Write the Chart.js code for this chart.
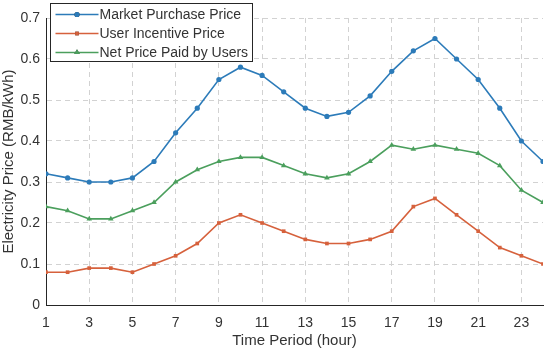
<!DOCTYPE html>
<html><head><meta charset="utf-8">
<script src="https://cdn.jsdelivr.net/npm/chart.js@4/dist/chart.umd.min.js"></script>
<style>html,body{margin:0;padding:0;background:#fff}#wrap{width:550px;height:350px}</style>
</head><body><div id="wrap"><canvas id="c" width="550" height="350"></canvas></div>
<script>
const hours = [1,2,3,4,5,6,7,8,9,10,11,12,13,14,15,16,17,18,19,20,21,22,23,24];
const marketPrice = [0.32,0.31,0.30,0.30,0.31,0.35,0.42,0.48,0.55,0.58,0.56,0.52,0.48,0.46,0.47,0.51,0.57,0.62,0.65,0.60,0.55,0.48,0.40,0.35];
const incentivePrice = [0.08,0.08,0.09,0.09,0.08,0.10,0.12,0.15,0.20,0.22,0.20,0.18,0.16,0.15,0.15,0.16,0.18,0.24,0.26,0.22,0.18,0.14,0.12,0.10];
const netPrice = [0.24,0.23,0.21,0.21,0.23,0.25,0.30,0.33,0.35,0.36,0.36,0.34,0.32,0.31,0.32,0.35,0.39,0.38,0.39,0.38,0.37,0.34,0.28,0.25];
const xTicks = [1,3,5,7,9,11,13,15,17,19,21,23];
const yTicks = [0,0.1,0.2,0.3,0.4,0.5,0.6,0.7];
const seriesNames = ['Market Purchase Price','User Incentive Price','Net Price Paid by Users'];
const colors = ['#2c7bb9','#d6613c','#4b9f5d'];
const markers = ['circle','rect','triangle'];

const FONT = 'Liberation Sans, Arial, Helvetica, sans-serif';
const TXT = '#333333';

function ds(i, vals){
  return {
    label: seriesNames[i],
    data: hours.map((h,k)=>({x:h,y:vals[k]})),
    borderColor: colors[i], backgroundColor: colors[i],
    borderWidth: 1.6, pointStyle: markers[i],
    pointRadius: i===2?3.2:2.6, pointBorderWidth: 0, tension: 0
  };
}

const legendPlugin = {
  id:'boxLegend',
  afterDraw(chart){
    const ctx = chart.ctx;
    const x0=50.5, y0=3.5, w=202, h=58;
    ctx.save();
    ctx.fillStyle='#fff'; ctx.fillRect(x0,y0,w,h);
    ctx.strokeStyle='#262626'; ctx.lineWidth=1; ctx.strokeRect(x0,y0,w,h);
    ctx.font='14px '+FONT; ctx.textBaseline='middle'; ctx.fillStyle=TXT;
    chart.data.datasets.forEach((d,i)=>{
      const yy = y0+11+i*19;
      ctx.strokeStyle=d.borderColor; ctx.lineWidth=1.6;
      ctx.beginPath(); ctx.moveTo(x0+5,yy); ctx.lineTo(x0+48,yy); ctx.stroke();
      Chart.helpers.drawPoint(ctx,{pointStyle:d.pointStyle,radius:d.pointRadius,rotation:0,borderWidth:0},x0+26.5,yy);
      ctx.fillStyle=d.borderColor; ctx.fill();
      ctx.fillStyle=TXT;
      ctx.fillText(d.label, x0+49, yy+1);
    });
    ctx.restore();
  }
};

new Chart(document.getElementById('c'),{
  type:'line',
  data:{datasets:[ds(0,marketPrice),ds(1,incentivePrice),ds(2,netPrice)]},
  options:{
    responsive:false, animation:false,
    layout:{padding:{left:0,right:7,top:18,bottom:0}},
    plugins:{legend:{display:false},tooltip:{enabled:false}},
    scales:{
      x:{type:'linear',min:1,max:24,
        afterBuildTicks(a){a.ticks=xTicks.map(v=>({value:v}));},
        afterFit(a){a.height=45;},
        grid:{color:'#d2d2d2',drawTicks:false},
        border:{color:'#262626',width:1,dash:[5,4]},
        ticks:{color:TXT,font:{family:FONT,size:14},padding:10,maxRotation:0},
        title:{display:true,text:'Time Period (hour)',color:TXT,font:{family:FONT,size:15},padding:{top:4,bottom:0}}
      },
      y:{min:0,max:0.7,
        afterBuildTicks(a){a.ticks=yTicks.map(v=>({value:v}));},
        afterFit(a){a.width=46;},
        grid:{color:'#d2d2d2',drawTicks:false},
        border:{color:'#262626',width:1,dash:[5,4]},
        ticks:{color:TXT,font:{family:FONT,size:14},padding:6,callback:v=>String(Math.round(v*10)/10)},
        title:{display:true,text:'Electricity Price (RMB/kWh)',color:TXT,font:{family:FONT,size:15},padding:{top:0,bottom:2}}
      }
    }
  },
  plugins:[legendPlugin]
});
</script></body></html>
